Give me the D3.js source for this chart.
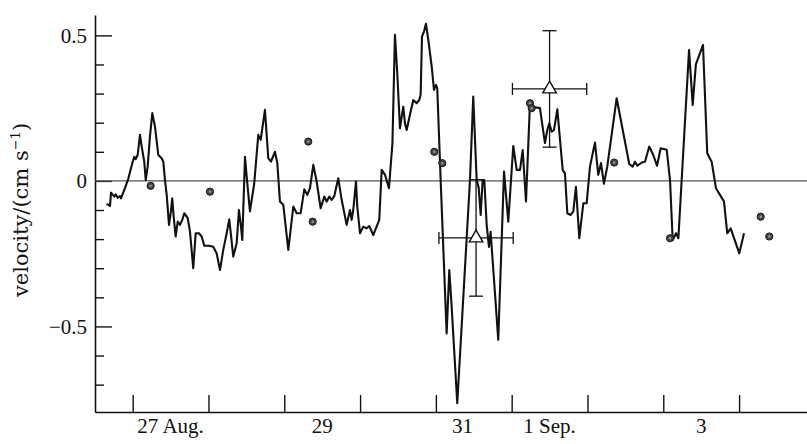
<!DOCTYPE html>
<html><head><meta charset="utf-8">
<script src="https://cdn.jsdelivr.net/npm/d3@7/dist/d3.min.js"></script>
<style>html,body{margin:0;padding:0;background:#fff;}svg{display:block;}</style>
</head><body>
<script>
// time in days after 27 Aug 00:00, velocity in cm/s
const lineDays = [-0.343,-0.299,-0.286,-0.243,-0.224,-0.198,-0.168,-0.154,-0.102,-0.058,-0.005,0.021,0.040,0.066,0.096,0.119,0.153,0.172,0.198,0.228,0.259,0.294,0.338,0.383,0.404,0.426,0.449,0.479,0.505,0.522,0.541,0.567,0.594,0.624,0.654,0.681,0.726,0.756,0.799,0.831,0.875,0.910,0.945,1.007,1.063,1.108,1.152,1.195,1.240,1.274,1.297,1.327,1.372,1.402,1.429,1.446,1.482,1.504,1.547,1.604,1.657,1.689,1.745,1.789,1.825,1.877,1.908,1.943,1.987,2.053,2.119,2.164,2.216,2.264,2.303,2.339,2.383,2.427,2.480,2.528,2.559,2.594,2.625,2.660,2.712,2.757,2.823,2.867,2.889,2.910,2.946,2.963,2.999,3.042,3.087,3.121,3.174,3.253,3.285,3.329,3.381,3.427,3.460,3.491,3.526,3.549,3.570,3.592,3.615,3.658,3.702,3.747,3.781,3.799,3.817,3.843,3.869,3.900,3.945,3.975,4.001,4.018,4.063,4.142,4.177,4.208,4.282,4.450,4.493,4.538,4.565,4.591,4.617,4.639,4.670,4.700,4.722,4.748,4.823,4.899,4.955,5.021,5.066,5.110,5.145,5.189,5.241,5.264,5.307,5.373,5.439,5.470,5.496,5.528,5.558,5.602,5.673,5.703,5.734,5.778,5.813,5.848,5.892,5.945,5.989,6.033,6.099,6.142,6.178,6.217,6.261,6.385,6.551,6.596,6.627,6.657,6.715,6.759,6.815,6.868,6.917,6.966,7.045,7.089,7.124,7.169,7.199,7.340,7.388,7.430,7.524,7.580,7.638,7.695,7.748,7.801,7.844,7.889,8.003,8.065];
const lineVel = [-0.079,-0.086,-0.040,-0.054,-0.046,-0.058,-0.052,-0.060,-0.025,0.007,0.061,0.083,0.075,0.089,0.158,0.118,0.066,0.003,0.049,0.152,0.233,0.187,0.089,0.078,0.066,0.003,-0.048,-0.151,-0.105,-0.060,-0.123,-0.191,-0.140,-0.151,-0.134,-0.111,-0.128,-0.174,-0.300,-0.180,-0.180,-0.191,-0.223,-0.223,-0.226,-0.249,-0.306,-0.237,-0.180,-0.132,-0.186,-0.260,-0.214,-0.100,-0.157,-0.203,0.083,0.015,-0.105,-0.008,0.158,0.141,0.244,0.078,0.066,0.100,0.061,-0.071,-0.082,-0.237,-0.088,-0.111,-0.111,-0.029,-0.048,-0.025,0.055,-0.002,-0.094,-0.054,-0.071,-0.054,-0.065,-0.052,0.009,-0.065,-0.151,-0.100,-0.134,-0.100,-0.002,-0.088,-0.180,-0.157,-0.163,-0.155,-0.186,-0.134,0.038,0.021,-0.025,0.130,0.502,0.370,0.181,0.221,0.255,0.198,0.175,0.227,0.278,0.267,0.278,0.296,0.496,0.513,0.540,0.485,0.393,0.313,0.330,0.319,0.003,-0.524,-0.306,-0.432,-0.764,0.003,0.290,0.003,-0.024,-0.117,0.003,0.003,-0.151,-0.227,-0.175,-0.270,-0.546,0.032,-0.140,0.120,0.038,0.038,0.106,-0.071,0.267,0.244,0.253,0.250,0.130,0.175,0.198,0.169,0.175,0.246,0.038,0.026,-0.111,-0.117,-0.105,-0.020,-0.197,-0.077,-0.077,0.049,0.132,0.021,0.061,-0.010,0.049,0.284,0.058,0.049,0.066,0.052,0.063,0.066,0.118,0.089,0.052,0.112,0.107,0.003,-0.203,-0.180,-0.197,0.450,0.261,0.400,0.467,0.095,0.066,-0.025,-0.048,-0.071,-0.180,-0.163,-0.249,-0.180];

const dotDays = [0.237,1.020,2.317,2.375,3.979,4.084,5.241,5.264,6.352,7.089,8.285,8.398];
const dotVel  = [-0.017,-0.037,0.135,-0.140,0.100,0.061,0.267,0.250,0.063,-0.197,-0.123,-0.191];

const triDays = [4.53, 5.50];
const triVel  = [-0.196, 0.316];
const triDayErr = [0.49, 0.49];
const triVelErr = [0.20, 0.20];

const xTickDays = [0,1,2,3,4,5,6,7,8];
const xLabelDays = [0.5, 2.5, 4.35, 5.5, 7.5];
const xLabels = ["27 Aug.", "29", "31", "1 Sep.", "3"];
const yMajorTicks = [0.5, 0, -0.5];
const yMinorTicks = [0.4,0.3,0.2,0.1,-0.1,-0.2,-0.3,-0.4,-0.6,-0.7];

const W = 807, H = 444;
const L = 95, R = 807, T = 15, B = 412;
const svg = d3.select("body").append("svg").attr("width", W).attr("height", H);

const x = d3.scaleLinear().domain([-0.497, 8.896]).range([L, R]);
const y = d3.scaleLinear().domain([-0.794, 0.570]).range([B, T]);

const tickFont = "'Liberation Serif','Times New Roman',serif";

// y axis
const yMaj = svg.append("g").attr("transform", `translate(${L},0)`)
  .call(d3.axisLeft(y).tickValues(yMajorTicks).tickSize(-17).tickSizeOuter(0).tickPadding(8)
    .tickFormat(d => d === 0 ? "0" : d3.format(".1f")(d)));
const yMin = svg.append("g").attr("transform", `translate(${L},0)`)
  .call(d3.axisLeft(y).tickValues(yMinorTicks).tickSize(-9).tickSizeOuter(0).tickFormat(""));
yMin.select(".domain").remove();

// x axis
const xAx = svg.append("g").attr("transform", `translate(0,${B})`)
  .call(d3.axisBottom(x).tickValues(xTickDays).tickSize(-17).tickSizeOuter(0).tickFormat(""));

svg.selectAll(".domain").attr("stroke", "#111").attr("stroke-width", 1.6);
svg.selectAll(".tick line").attr("stroke", "#111").attr("stroke-width", 1.4);
yMaj.attr("font-family", null).attr("font-size", null);
yMaj.selectAll("text").style("font-family", tickFont).style("font-size", "21px").attr("fill", "#111");

svg.append("g").selectAll("text").data(xLabels).join("text")
  .attr("x", (d, i) => x(xLabelDays[i])).attr("y", 433)
  .attr("text-anchor", "middle").style("font-family", tickFont).style("font-size", "21px").attr("fill", "#111")
  .text(d => d);

// y label
const yl = svg.append("text").attr("transform", "translate(28,210) rotate(-90)")
  .attr("text-anchor", "middle").style("font-family", "'DejaVu Serif',serif").style("font-size", "21px").attr("fill", "#111");
yl.append("tspan").text("velocity/(cm s");
yl.append("tspan").attr("dy", -8).style("font-size", "13px").text("−1");
yl.append("tspan").attr("dy", 8).text(")");

// zero line
svg.append("line").attr("x1", L).attr("x2", R).attr("y1", y(0)).attr("y2", y(0))
  .attr("stroke", "#555").attr("stroke-width", 1.1);

// data line
const pts = lineDays.map((d, i) => [d, lineVel[i]]);
svg.append("path").datum(pts)
  .attr("d", d3.line().x(d => x(d[0])).y(d => y(d[1])))
  .attr("fill", "none").attr("stroke", "#111").attr("stroke-width", 2.1).attr("stroke-linejoin", "round");

// error bars
const eb = svg.append("g").attr("stroke", "#111").attr("stroke-width", 1.3).attr("fill", "none");
triDays.forEach((d, i) => {
  const cx = x(d), cy = y(triVel[i]);
  const x0 = x(d - triDayErr[i]), x1 = x(d + triDayErr[i]);
  const y0 = y(triVel[i] + triVelErr[i]), y1 = y(triVel[i] - triVelErr[i]);
  eb.append("line").attr("x1", x0).attr("x2", x1).attr("y1", cy).attr("y2", cy);
  eb.append("line").attr("x1", x0).attr("x2", x0).attr("y1", cy - 6).attr("y2", cy + 6);
  eb.append("line").attr("x1", x1).attr("x2", x1).attr("y1", cy - 6).attr("y2", cy + 6);
  eb.append("line").attr("x1", cx).attr("x2", cx).attr("y1", y0).attr("y2", y1);
  eb.append("line").attr("x1", cx - 7).attr("x2", cx + 7).attr("y1", y0).attr("y2", y0);
  eb.append("line").attr("x1", cx - 7).attr("x2", cx + 7).attr("y1", y1).attr("y2", y1);
});
svg.append("g").selectAll("path").data(triDays).join("path")
  .attr("transform", (d, i) => `translate(${x(d)},${y(triVel[i])})`)
  .attr("d", d3.symbol(d3.symbolTriangle).size(80))
  .attr("fill", "#fff").attr("stroke", "#111").attr("stroke-width", 1.4);

// dots
const dg = svg.append("g");
dg.selectAll("circle.o").data(dotDays).join("circle").attr("class", "o")
  .attr("cx", d => x(d)).attr("cy", (d, i) => y(dotVel[i])).attr("r", 3.6)
  .attr("fill", "#444").attr("stroke", "#1a1a1a").attr("stroke-width", 1);
dg.selectAll("circle.i").data(dotDays).join("circle").attr("class", "i")
  .attr("cx", d => x(d)).attr("cy", (d, i) => y(dotVel[i])).attr("r", 1.2)
  .attr("fill", "#999");
</script>
</body></html>
